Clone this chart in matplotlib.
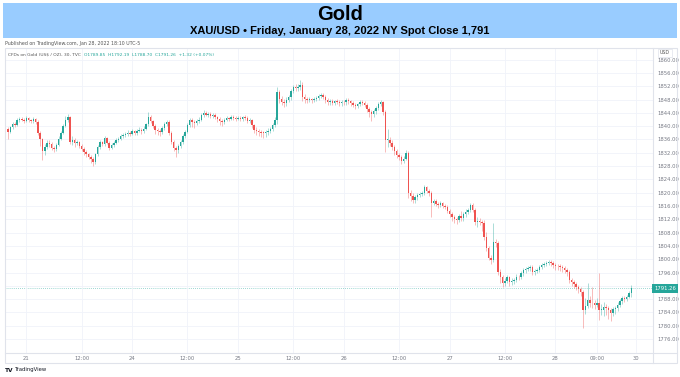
import matplotlib
matplotlib.use("Agg")
import matplotlib.pyplot as plt
from matplotlib.patches import Rectangle
from matplotlib.lines import Line2D
import numpy as np

# ── data: 30-minute XAU/USD candles, Jan 20 20:00 -> Jan 28 17:00 (NY) ──
closes = [
    1838.3, 1839.6, 1840.8, 1840.2, 1841.9, 1842.3, 1842.0, 1841.6, 1842.4, 1841.8,
    1841.5, 1842.1, 1841.2, 1838.0, 1836.1, 1832.4, 1833.8, 1835.0, 1834.6, 1833.5,
    1833.0, 1834.4, 1836.2, 1838.0, 1840.1, 1842.0, 1842.8, 1835.3, 1835.8, 1834.9,
    1835.2, 1834.0, 1833.1, 1832.2, 1831.6, 1830.8, 1830.2, 1829.3, 1831.5, 1833.6,
    1835.1, 1834.6, 1836.4, 1835.0, 1833.4, 1834.2, 1835.0, 1835.8, 1836.2, 1836.9,
    1837.2, 1837.6, 1838.0, 1837.7, 1838.4, 1837.9, 1838.6, 1838.9, 1838.4, 1839.2,
    1840.5, 1842.8, 1841.5, 1840.0, 1838.9, 1838.4, 1838.1, 1839.5, 1840.6, 1841.3,
    1838.0, 1835.2, 1833.5, 1832.9, 1834.0, 1835.1, 1836.9, 1838.3, 1840.2, 1841.9,
    1841.2, 1840.9, 1841.6, 1842.0, 1843.3, 1844.0, 1843.5, 1843.8, 1843.0, 1843.4,
    1842.7, 1842.1, 1841.6, 1841.3, 1841.9, 1842.4, 1842.1, 1842.8, 1842.6, 1842.3,
    1842.5, 1842.1, 1842.7, 1842.5, 1841.6, 1841.9, 1840.2, 1838.9, 1838.6, 1838.3,
    1838.0, 1837.9, 1838.1, 1838.6, 1839.0, 1840.4, 1841.9, 1850.3, 1848.2, 1847.4,
    1847.0, 1848.0, 1848.8, 1850.5, 1851.8, 1851.5, 1851.9, 1852.4, 1848.8, 1848.3,
    1847.9, 1848.1, 1847.8, 1848.2, 1848.5, 1849.0, 1849.4, 1848.8, 1847.9, 1847.3,
    1847.6, 1847.1, 1847.5, 1847.3, 1846.9, 1847.4, 1847.2, 1847.9, 1847.6, 1847.0,
    1846.4, 1846.0, 1846.6, 1847.2, 1847.0, 1846.5, 1845.2, 1844.3, 1843.6, 1844.6,
    1845.5, 1846.6, 1847.3, 1844.3, 1835.8, 1835.9, 1835.0, 1833.7, 1832.5, 1831.3,
    1830.6, 1829.4, 1830.2, 1832.0, 1819.9, 1819.0, 1817.8, 1818.6, 1819.3, 1819.5,
    1819.9, 1821.7, 1820.6, 1819.9, 1816.9, 1817.4, 1816.6, 1816.3, 1816.8, 1816.0,
    1815.7, 1814.6, 1813.5, 1812.7, 1812.0, 1811.8, 1812.9, 1812.4, 1813.5, 1814.3,
    1814.8, 1816.3, 1814.8, 1811.2, 1811.6, 1811.2, 1811.0, 1806.7, 1803.5, 1800.4,
    1799.8, 1805.2, 1804.9, 1796.2, 1794.6, 1792.8, 1793.4, 1794.6, 1793.1, 1793.5,
    1793.7, 1794.8, 1794.6, 1795.9, 1796.8, 1797.1, 1797.4, 1797.7, 1796.2, 1796.5,
    1796.8, 1797.6, 1798.3, 1798.6, 1798.9, 1799.2, 1798.8, 1798.3, 1798.0, 1797.9,
    1797.7, 1797.3, 1796.8, 1796.2, 1793.7, 1793.0, 1792.4, 1791.6, 1790.9, 1790.1,
    1784.7, 1786.0, 1787.7, 1786.8, 1786.7, 1786.2, 1786.9, 1784.7, 1784.7, 1785.6,
    1785.3, 1784.6, 1783.8, 1784.9, 1785.3, 1786.2, 1787.4, 1788.3, 1788.0, 1788.6,
    1789.85, 1791.26,
]
highs = [
    1839.6, 1840.1, 1841.3, 1841.2, 1842.4, 1842.9, 1842.8, 1842.5, 1843.0, 1842.7,
    1842.3, 1842.9, 1842.6, 1841.8, 1838.6, 1836.5, 1834.5, 1835.7, 1835.9, 1835.1,
    1834.1, 1835.0, 1836.9, 1838.6, 1840.8, 1843.1, 1843.8, 1843.2, 1836.9, 1836.4,
    1835.9, 1835.6, 1834.6, 1833.7, 1832.8, 1832.0, 1831.4, 1830.6, 1832.0, 1834.2,
    1835.8, 1835.6, 1837.1, 1836.8, 1835.5, 1834.9, 1835.6, 1836.4, 1836.8, 1837.5,
    1837.8, 1838.1, 1838.7, 1838.4, 1839.0, 1838.9, 1839.1, 1839.6, 1839.3, 1839.9,
    1841.1, 1844.4, 1843.5, 1842.0, 1840.6, 1839.5, 1839.0, 1840.1, 1841.2, 1842.0,
    1841.9, 1838.6, 1835.9, 1834.1, 1834.7, 1835.8, 1837.6, 1838.9, 1840.9, 1842.5,
    1842.6, 1841.8, 1842.2, 1842.7, 1843.9, 1844.8, 1844.6, 1844.3, 1844.2, 1844.0,
    1843.9, 1843.2, 1842.7, 1842.1, 1842.5, 1843.0, 1842.9, 1843.4, 1843.3, 1843.0,
    1843.1, 1843.0, 1843.2, 1843.3, 1843.0, 1842.4, 1842.3, 1840.8, 1839.6, 1839.2,
    1838.9, 1838.6, 1838.8, 1839.3, 1839.6, 1841.0, 1842.8, 1851.8, 1850.9, 1849.0,
    1848.2, 1848.7, 1849.5, 1851.1, 1852.5, 1852.6, 1852.8, 1854.0, 1853.3, 1849.6,
    1848.9, 1848.7, 1848.6, 1848.8, 1849.1, 1849.6, 1850.1, 1849.9, 1849.3, 1848.5,
    1848.2, 1848.1, 1848.0, 1848.1, 1847.8, 1848.0, 1847.9, 1848.6, 1848.4, 1848.0,
    1847.5, 1847.0, 1847.1, 1847.8, 1848.0, 1847.6, 1847.0, 1845.8, 1844.9, 1845.3,
    1846.1, 1847.2, 1848.0, 1847.7, 1844.9, 1839.0, 1836.6, 1835.8, 1834.4, 1833.1,
    1831.8, 1831.2, 1830.9, 1832.9, 1832.6, 1820.9, 1819.8, 1819.2, 1819.9, 1820.3,
    1820.6, 1822.3, 1822.1, 1821.2, 1820.4, 1818.0, 1818.1, 1817.2, 1817.5, 1817.3,
    1816.7, 1816.3, 1815.2, 1814.1, 1813.4, 1812.8, 1813.6, 1814.5, 1814.2, 1815.0,
    1815.5, 1816.9, 1816.8, 1815.3, 1812.7, 1812.3, 1811.8, 1811.9, 1808.2, 1804.1,
    1801.2, 1810.9, 1806.0, 1805.6, 1797.0, 1795.3, 1794.2, 1795.3, 1795.1, 1794.4,
    1794.4, 1795.6, 1795.3, 1796.6, 1797.5, 1797.8, 1798.0, 1798.4, 1798.3, 1797.2,
    1797.5, 1798.2, 1798.9, 1799.2, 1799.5, 1799.9, 1799.7, 1799.4, 1798.9, 1798.6,
    1798.5, 1798.4, 1798.0, 1797.5, 1796.9, 1794.4, 1793.7, 1793.1, 1792.3, 1791.7,
    1790.6, 1788.4, 1792.8, 1788.9, 1791.5, 1787.6, 1788.2, 1795.9, 1786.5, 1787.0,
    1786.4, 1786.0, 1785.2, 1785.6, 1786.0, 1787.0, 1788.1, 1789.0, 1788.9, 1789.3,
    1790.4, 1792.19,
]
lows = [
    1836.2, 1837.8, 1839.1, 1839.6, 1839.9, 1841.4, 1841.5, 1841.0, 1841.2, 1841.2,
    1840.9, 1841.0, 1840.6, 1837.2, 1834.0, 1829.9, 1831.4, 1833.2, 1833.6, 1832.8,
    1832.1, 1832.6, 1834.0, 1835.7, 1837.5, 1839.6, 1841.3, 1834.6, 1834.2, 1833.8,
    1834.2, 1833.5, 1832.4, 1831.3, 1830.6, 1830.0, 1828.9, 1828.0, 1828.7, 1830.9,
    1833.0, 1834.0, 1834.1, 1834.6, 1832.9, 1833.0, 1833.8, 1834.6, 1835.3, 1835.7,
    1836.4, 1836.8, 1837.1, 1837.0, 1837.2, 1837.3, 1837.4, 1838.1, 1837.6, 1838.0,
    1838.8, 1840.1, 1841.0, 1839.3, 1837.5, 1837.3, 1836.9, 1837.6, 1838.9, 1839.9,
    1837.3, 1834.5, 1832.6, 1830.6, 1831.9, 1833.4, 1834.5, 1836.3, 1837.8, 1839.6,
    1839.8, 1839.5, 1840.2, 1841.0, 1841.5, 1842.7, 1843.0, 1842.9, 1842.4, 1842.5,
    1842.1, 1841.3, 1840.2, 1840.0, 1840.8, 1841.5, 1841.6, 1841.8, 1842.0, 1841.7,
    1841.8, 1841.5, 1841.6, 1842.0, 1841.0, 1840.9, 1839.4, 1837.8, 1837.4, 1836.9,
    1836.6, 1836.3, 1836.8, 1837.2, 1838.0, 1838.4, 1839.7, 1840.5, 1846.9, 1846.5,
    1845.9, 1846.2, 1847.2, 1848.0, 1849.9, 1850.7, 1850.6, 1851.0, 1847.5, 1846.9,
    1847.0, 1847.2, 1847.1, 1847.2, 1847.6, 1848.0, 1848.5, 1848.1, 1847.1, 1846.5,
    1846.5, 1846.3, 1846.5, 1846.6, 1846.0, 1846.1, 1846.4, 1846.5, 1846.8, 1846.2,
    1845.7, 1845.2, 1845.4, 1846.0, 1846.3, 1845.8, 1844.4, 1842.9, 1841.5, 1842.8,
    1843.8, 1844.9, 1846.0, 1843.5, 1832.2, 1833.6, 1834.0, 1832.7, 1831.4, 1830.5,
    1829.9, 1828.7, 1828.9, 1829.8, 1818.5, 1817.4, 1816.9, 1816.8, 1817.9, 1818.7,
    1818.9, 1819.4, 1819.9, 1819.1, 1812.8, 1816.2, 1815.9, 1815.5, 1815.6, 1815.3,
    1815.0, 1813.9, 1812.6, 1811.6, 1810.9, 1810.7, 1811.2, 1811.5, 1811.6, 1812.8,
    1813.6, 1814.1, 1814.1, 1810.3, 1809.8, 1810.2, 1808.5, 1805.9, 1802.6, 1799.7,
    1798.6, 1799.3, 1803.8, 1795.4, 1792.9, 1791.6, 1791.9, 1792.8, 1792.0, 1792.3,
    1792.4, 1793.0, 1793.8, 1794.0, 1795.1, 1795.9, 1796.4, 1796.6, 1795.2, 1795.4,
    1795.8, 1796.2, 1797.1, 1797.7, 1798.0, 1798.3, 1798.0, 1797.5, 1796.9, 1796.8,
    1796.6, 1796.3, 1795.8, 1795.1, 1792.8, 1791.9, 1791.2, 1790.6, 1789.7, 1789.0,
    1779.3, 1783.6, 1785.3, 1785.6, 1785.4, 1784.9, 1785.5, 1781.7, 1783.2, 1782.9,
    1783.1, 1782.0, 1781.3, 1782.8, 1783.6, 1784.5, 1785.5, 1786.6, 1787.2, 1787.3,
    1788.2, 1788.70,
]
first_open = 1839.0
last_price = 1791.26

tick_pos = [8, 32, 54, 78, 100, 124, 146, 170, 192, 216, 238, 256, 273]
tick_labels = ["21", "12:00", "24", "12:00", "25", "12:00", "26", "12:00",
               "27", "12:00", "28", "09:00", "30"]
price_ticks = list(range(1776, 1864, 4))

# ── colours ──
UP = "#26a69a"
DOWN = "#ef5350"
GRID = "#f0f3fa"
BORDER = "#e0e3eb"
TXT = "#787b86"
BANNER = "#99ccff"

W, H = 680, 377
fig = plt.figure(figsize=(W / 100, H / 100), dpi=100)
fig.patch.set_facecolor("white")


def px(x0, y0, x1, y1):
    # pixel box (top-left origin) -> figure fraction rect
    return [x0 / W, 1 - y1 / H, (x1 - x0) / W, (y1 - y0) / H]


# banner
fig.patches.append(Rectangle((3 / W, 1 - 38 / H), 674 / W, 35 / H,
                             transform=fig.transFigure, facecolor=BANNER,
                             edgecolor="none", zorder=0))
fig.text(0.5, 1 - 14.5 / H, "Gold", ha="center", va="center", fontsize=14.5,
         fontweight="bold", family=["Liberation Sans", "DejaVu Sans"])
fig.text(0.5, 1 - 31 / H, "XAU/USD • Friday, January 28, 2022 NY Spot Close 1,791",
         ha="center", va="center", fontsize=8, fontweight="bold",
         family=["Liberation Sans", "DejaVu Sans"])
fig.text(5 / W, 1 - 44 / H, "Published on TradingView.com, Jan 28, 2022 18:10 UTC-5",
         ha="left", va="center", fontsize=3.4, color="#555555")

# main chart pane
ax = fig.add_axes(px(5, 48, 653, 353))
ax.set_facecolor("white")

opens = [first_open] + closes[:-1]
idx = np.arange(len(closes))
o = np.array(opens)
c = np.array(closes)
hi = np.array(highs)
lo = np.array(lows)
up = c >= o
cols = np.where(up, UP, DOWN)

ax.vlines(idx, lo, hi, colors=cols, linewidth=0.6, alpha=0.45, zorder=2)
body_bot = np.minimum(o, c)
body_h = np.maximum(np.abs(c - o), 0.2)
ax.bar(idx, body_h, bottom=body_bot, width=0.62, color=cols, linewidth=0, zorder=3)

ax.axhline(last_price, color=UP, linewidth=0.6, linestyle=(0, (1, 1.5)), alpha=0.6, zorder=1)

ax.set_xlim(-1.3, 280.4)
ax.set_ylim(1771.8, 1863.5)
ax.set_xticks(tick_pos)
ax.set_xticklabels(tick_labels)
ax.set_yticks(price_ticks)
ax.set_yticklabels([f"{p:.2f}" for p in price_ticks])
ax.yaxis.tick_right()
ax.tick_params(axis="both", length=0, labelsize=3.8, labelcolor=TXT)
ax.tick_params(axis="x", pad=2.2)
ax.tick_params(axis="y", pad=3.2)
ax.grid(True, color=GRID, linewidth=0.6, zorder=0)
for s in ax.spines.values():
    s.set_visible(False)
# the price tag sits on top of the 1792 label
for lbl, p in zip(ax.get_yticklabels(), price_ticks):
    if p == 1792:
        lbl.set_visible(False)

# frame and separators
fig.patches.append(Rectangle((5 / W, 1 - 363 / H), 672 / W, 315 / H,
                             transform=fig.transFigure, facecolor="none",
                             edgecolor=BORDER, linewidth=0.8, zorder=5))
fig.lines.append(Line2D([653 / W, 653 / W], [1 - 48 / H, 1 - 363 / H],
                        transform=fig.transFigure, color=BORDER, linewidth=0.8))
fig.lines.append(Line2D([5 / W, 677 / W], [1 - 353 / H, 1 - 353 / H],
                        transform=fig.transFigure, color=BORDER, linewidth=0.8))

# legend line: grey symbol name, then teal OHLC right after it
name = fig.text(8 / W, 1 - 55 / H, "CFDs on Gold (US$ / OZ), 30, TVC", ha="left",
                va="center", fontsize=3.2, color="#555555")
fig.canvas.draw()
x_end = name.get_window_extent().x1 / fig.dpi / (W / 100)
fig.text(x_end + 3 / W, 1 - 55 / H,
         f"O{opens[-1]:.2f}  H{highs[-1]:.2f}  L{lows[-1]:.2f}  C{closes[-1]:.2f}  +1.32 (+0.07%)",
         ha="left", va="center", fontsize=3.2, color=UP)

# USD box top right
fig.text(665 / W, 1 - 53 / H, "USD", ha="center", va="center", fontsize=3.4,
         color="#555555", zorder=6,
         bbox=dict(boxstyle="square,pad=0.4", facecolor="white", edgecolor=BORDER, linewidth=0.5))
for lbl, p in zip(ax.get_yticklabels(), price_ticks):
    if p == 1860:
        lbl.set_visible(False)

# last price label
y_last = ax.transData.transform((0, last_price))[1]
fig.text(665 / W, y_last / fig.dpi / (H / 100), f"{last_price:.2f}", ha="center", va="center",
         fontsize=3.8, color="white", zorder=6,
         bbox=dict(boxstyle="square,pad=0.35", facecolor=UP, edgecolor="none"))

# logo
fig.text(5 / W, 1 - 370 / H, "TV", ha="left", va="center", fontsize=4.2,
         fontweight="bold", color="#131722")
fig.text(15 / W, 1 - 370 / H, "TradingView", ha="left", va="center", fontsize=3.8,
         color="#131722")

fig.savefig("out.png", dpi=100, facecolor="white")
